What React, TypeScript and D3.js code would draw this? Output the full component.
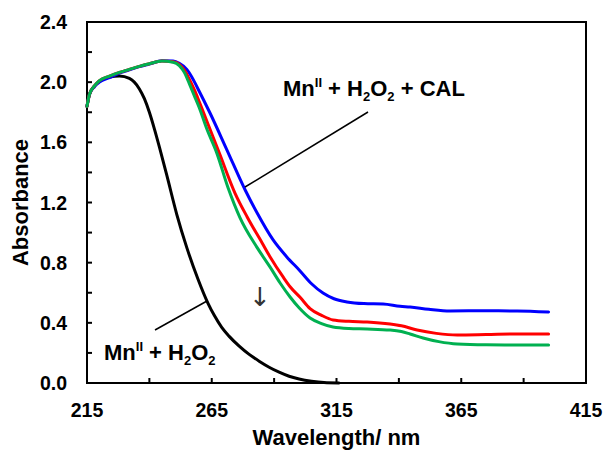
import React from "react";
import * as d3 from "d3";

// ---- Data ----
const blackWl = [215, 216, 218, 220, 224, 228, 232, 236, 238, 240, 242, 244, 247, 251, 255, 259.5, 263.5, 266, 269, 272, 276, 280, 284, 288, 292, 296, 300, 305, 310, 316];
const blackAbs = [1.84, 1.92, 1.975, 2.005, 2.035, 2.041, 2.025, 1.955, 1.89, 1.8, 1.69, 1.57, 1.38, 1.12, 0.9, 0.69, 0.53, 0.45, 0.37, 0.31, 0.245, 0.19, 0.145, 0.105, 0.072, 0.045, 0.027, 0.012, 0.003, 0.0];

const greenWl = [215, 216, 218, 220, 224, 228, 232, 236, 240, 245, 249.5, 252, 254, 256, 258, 260, 263, 267, 271.5, 276.3, 283.2, 288.4, 292.4, 296.4, 300, 304.4, 309, 313.6, 320, 327.3, 336.5, 341, 344.5, 349.7, 356, 363.4, 375, 387.4, 400];
const greenAbs = [1.84, 1.92, 1.975, 2.01, 2.04, 2.065, 2.085, 2.105, 2.122, 2.14, 2.133, 2.11, 2.065, 1.99, 1.91, 1.83, 1.69, 1.53, 1.3, 1.1, 0.9, 0.77, 0.665, 0.572, 0.5, 0.432, 0.395, 0.372, 0.362, 0.359, 0.352, 0.342, 0.326, 0.299, 0.275, 0.259, 0.254, 0.253, 0.253];

const redWl = [215, 216, 218, 220, 224, 228, 232, 236, 240, 245, 249.5, 252, 254, 256, 258, 260, 264, 268, 274.3, 279.2, 285.2, 288.4, 293.6, 296.4, 300.4, 304.4, 309, 313.6, 320, 327.3, 336.5, 341, 347.3, 355, 363.4, 375, 387.4, 400];
const redAbs = [1.84, 1.92, 1.975, 2.01, 2.04, 2.065, 2.085, 2.105, 2.122, 2.14, 2.135, 2.118, 2.08, 2.02, 1.95, 1.87, 1.7, 1.53, 1.263, 1.104, 0.931, 0.838, 0.705, 0.64, 0.57, 0.495, 0.45, 0.419, 0.41, 0.406, 0.392, 0.38, 0.352, 0.33, 0.319, 0.322, 0.326, 0.326];

const blueWl = [215, 216, 218, 220, 224, 228, 232, 236, 240, 245, 249.5, 252, 255, 257, 259.1, 264.3, 271.1, 278.4, 283.2, 289.6, 295, 300.4, 305, 309.6, 314, 319.2, 326, 333.7, 340.5, 344.5, 352, 360.5, 375, 387.4, 400];
const blueAbs = [1.84, 1.92, 1.97, 2.0, 2.03, 2.06, 2.082, 2.103, 2.12, 2.142, 2.14, 2.125, 2.085, 2.035, 1.968, 1.795, 1.549, 1.283, 1.13, 0.951, 0.84, 0.745, 0.66, 0.598, 0.56, 0.539, 0.528, 0.525, 0.51, 0.505, 0.49, 0.479, 0.48, 0.479, 0.472];

const xTicks = [215, 240, 265, 290, 315, 340, 365, 390, 415];
const xLabels = [215, 265, 315, 365, 415];
const yTicks = [0, 0.2, 0.4, 0.6, 0.8, 1.0, 1.2, 1.4, 1.6, 1.8, 2.0, 2.2, 2.4];
const yLabels = [0, 0.4, 0.8, 1.2, 1.6, 2.0, 2.4];

const series = [
  { name: "MnII + H2O2", wl: blackWl, abs: blackAbs, color: "#000000" },
  { name: "CAL 1", wl: blueWl, abs: blueAbs, color: "#0000FF" },
  { name: "CAL 2", wl: redWl, abs: redAbs, color: "#FF0000" },
  { name: "CAL 3", wl: greenWl, abs: greenAbs, color: "#00B050" },
];

const W = 605;
const H = 450;
const M = { left: 87, right: 586, top: 22, bottom: 383 };
const FONT = "'Liberation Sans', Arial, Helvetica, sans-serif";

export default function App() {
  const x = d3.scaleLinear().domain([215, 415]).range([M.left, M.right]);
  const y = d3.scaleLinear().domain([0, 2.4]).range([M.bottom, M.top]);
  const line = d3
    .line<[number, number]>()
    .x((d) => x(d[0]))
    .y((d) => y(d[1]))
    .curve(d3.curveMonotoneX);

  return (
    <svg
      width={W}
      height={H}
      style={{ position: "absolute", left: 0, top: 0, background: "#fff" }}
      fontFamily={FONT}
    >
      <rect x={0} y={0} width={W} height={H} fill="#fff" />
      {/* plot frame */}
      <rect
        x={M.left}
        y={M.top}
        width={M.right - M.left}
        height={M.bottom - M.top}
        fill="none"
        stroke="#000"
        strokeWidth={2}
      />
      {/* x ticks */}
      {xTicks.map((t) => (
        <line key={"xt" + t} x1={x(t)} x2={x(t)} y1={M.bottom} y2={M.bottom - 5} stroke="#000" strokeWidth={2} />
      ))}
      {xLabels.map((t) => (
        <text key={"xl" + t} x={x(t)} y={417} textAnchor="middle" fontSize={19.5} fontWeight="bold">
          {t}
        </text>
      ))}
      {/* y ticks */}
      {yTicks.map((t) => (
        <line key={"yt" + t} x1={M.left} x2={M.left + 5} y1={y(t)} y2={y(t)} stroke="#000" strokeWidth={2} />
      ))}
      {yLabels.map((t) => (
        <text key={"yl" + t} x={67} y={y(t)} dy="0.36em" textAnchor="end" fontSize={19.5} fontWeight="bold">
          {t.toFixed(1)}
        </text>
      ))}
      {/* axis titles */}
      <text x={(M.left + M.right) / 2} y={445} textAnchor="middle" fontSize={22} fontWeight="bold">
        Wavelength/ nm
      </text>
      <text
        transform={`translate(28, ${(M.top + M.bottom) / 2}) rotate(-90)`}
        textAnchor="middle"
        fontSize={22}
        fontWeight="bold"
      >
        Absorbance
      </text>
      {/* curves */}
      <g fill="none" strokeWidth={3} strokeLinejoin="round" strokeLinecap="round">
        {series.map((s) => (
          <path
            key={s.name}
            d={line(s.wl.map((w, i) => [w, s.abs[i]] as [number, number])) || ""}
            stroke={s.color}
          />
        ))}
      </g>
      {/* annotations */}
      <line x1={368} y1={112} x2={245} y2={187} stroke="#000" strokeWidth={1.5} />
      <text x={283} y={96} fontSize={22} fontWeight="bold">
        Mn<tspan fontSize={13} dy={-9}>II</tspan>
        <tspan dy={9}> + H</tspan>
        <tspan fontSize={13} dy={5}>2</tspan>
        <tspan dy={-5}>O</tspan>
        <tspan fontSize={13} dy={5}>2</tspan>
        <tspan dy={-5}> + CAL</tspan>
      </text>
      <line x1={155} y1={330} x2={207} y2={301} stroke="#000" strokeWidth={1.5} />
      <text x={104} y={360} fontSize={22} fontWeight="bold">
        Mn<tspan fontSize={13} dy={-9}>II</tspan>
        <tspan dy={9}> + H</tspan>
        <tspan fontSize={13} dy={5}>2</tspan>
        <tspan dy={-5}>O</tspan>
        <tspan fontSize={13} dy={5}>2</tspan>
      </text>
      <text x={260} y={306} textAnchor="middle" fontSize={26} fill="#333" fontFamily="'DejaVu Sans', sans-serif">
        ↓
      </text>
    </svg>
  );
}
